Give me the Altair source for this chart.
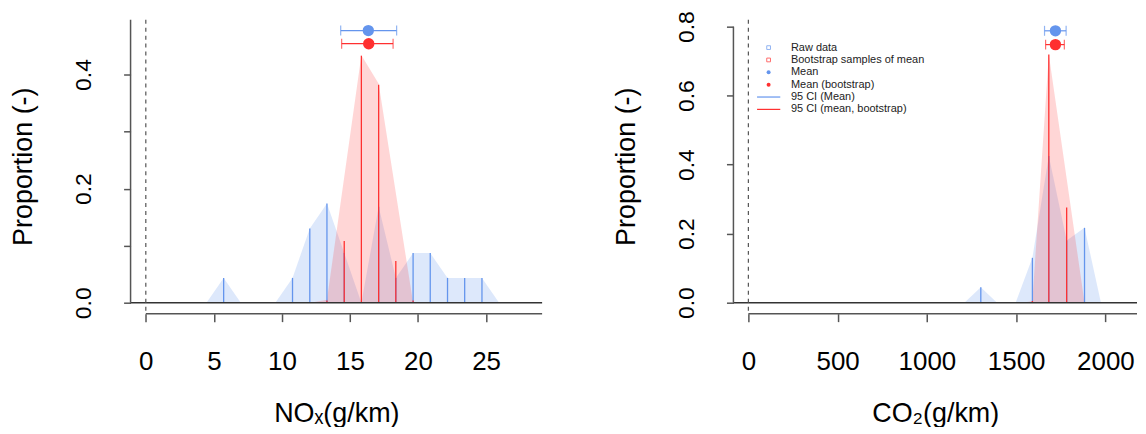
import altair as alt
import pandas as pd

FONT = "Liberation Sans"
BLUE = "#6495ED"
RED = "#FF3030"
AXC = "#555555"

# ---------------- Left panel: NOx ----------------
NOX_RAW_POLY_X = [4.46, 5.72, 6.98, 8.25, 9.52, 10.78, 12.05, 13.31, 14.58, 15.84,
                  17.11, 18.37, 19.64, 20.90, 22.17, 23.43, 24.70, 25.96]
NOX_RAW_POLY_P = [0.0, 0.0435, 0.0, 0.0, 0.0, 0.0435, 0.130, 0.174, 0.087, 0.0,
                  0.168, 0.0435, 0.087, 0.087, 0.0435, 0.0435, 0.0435, 0.0]
NOX_RAW_LINE_X = [5.72, 10.78, 12.05, 13.31, 14.58, 17.11, 18.37, 19.64, 20.90, 22.17, 23.43, 24.70]
NOX_RAW_LINE_P = [0.0435, 0.0435, 0.130, 0.174, 0.087, 0.168, 0.0435, 0.087, 0.087, 0.0435, 0.0435, 0.0435]
NOX_BS_POLY_X = [12.10, 13.31, 15.84, 17.11, 19.64]
NOX_BS_POLY_P = [0.0, 0.005, 0.434, 0.384, 0.0]
NOX_BS_LINE_X = [13.31, 14.58, 15.84, 17.11, 18.37, 19.64]
NOX_BS_LINE_P = [0.004, 0.108, 0.433, 0.382, 0.073, 0.004]
NOX_MEAN = [16.35, 16.38]
NOX_LO = [14.32, 14.39]
NOX_HI = [18.43, 18.17]
NOX_LEVEL = [0.477, 0.454]
NOX_XTICKS = [0, 5, 10, 15, 20, 25]
NOX_YTICKS = [0.0, 0.1, 0.2, 0.3, 0.4]

# ---------------- Right panel: CO2 ----------------
CO2_RAW_POLY_X = [1210, 1302, 1393, 1497, 1591, 1683, 1783, 1883, 1975]
CO2_RAW_POLY_P = [0.0, 0.045, 0.0, 0.0, 0.130, 0.425, 0.180, 0.217, 0.0]
CO2_RAW_LINE_X = [1302, 1591, 1683, 1783, 1883]
CO2_RAW_LINE_P = [0.045, 0.130, 0.425, 0.180, 0.217]
CO2_BS_POLY_X = [1540, 1591, 1683, 1883]
CO2_BS_POLY_P = [0.0, 0.005, 0.719, 0.0]
CO2_BS_LINE_X = [1591, 1683, 1783]
CO2_BS_LINE_P = [0.005, 0.719, 0.276]
CO2_MEAN = [1720, 1720]
CO2_LO = [1659, 1665]
CO2_HI = [1780, 1770]
CO2_LEVEL = [0.788, 0.748]
CO2_XTICKS = [0, 500, 1000, 1500, 2000]
CO2_YTICKS = [0.0, 0.2, 0.4, 0.6, 0.8]

LEG_LABELS = ["Raw data", "Bootstrap samples of mean", "Mean", "Mean (bootstrap)",
              "95 CI (Mean)", "95 CI (mean, bootstrap)"]
LEG_KIND = ["square", "square", "circle", "circle", "line", "line"]
LEG_COLOR = [BLUE, RED, BLUE, RED, BLUE, RED]

PH = 295  # plot height


def panel(raw_px, raw_pp, raw_lx, raw_lp, bs_px, bs_pp, bs_lx, bs_lp,
          mean, lo, hi, level, xdom, ydom, xticks, yticks, ylabexpr, xtitle,
          width, ytop_line, legend=False):
    xscale = alt.Scale(domain=xdom, nice=False, zero=False)
    yscale = alt.Scale(domain=ydom, nice=False, zero=False)
    xaxis = alt.Axis(values=xticks, domain=False, grid=False, tickSize=8, tickColor=AXC,
                     tickWidth=1.5, labelFontSize=26, labelPadding=27, labelFont=FONT,
                     labelColor="black", labelFlush=False, labelOverlap=False, format="d",
                     title=xtitle, titleFont=FONT, titleFontSize=27, titleFontWeight="normal",
                     titleColor="black", titleX=width / 2, titleY=108, titleAlign="center",
                     titleBaseline="alphabetic")
    yaxis = alt.Axis(values=yticks, domain=False, grid=False, tickSize=7, tickColor=AXC,
                     tickWidth=1.5, labelFontSize=23, labelPadding=28, labelFont=FONT,
                     labelColor="black", labelAngle=270, labelAlign="center",
                     labelBaseline="bottom", labelFlush=False, labelOverlap=False,
                     labelExpr=ylabexpr, title="Proportion (-)", titleFont=FONT,
                     titleFontSize=27, titleFontWeight="normal", titleColor="black",
                     titleAngle=270, titleX=-107, titleY=147, titleAlign="center",
                     titleBaseline="middle")

    def X(f):
        return alt.X(f, type="quantitative", scale=xscale, axis=xaxis)

    def Y(f):
        return alt.Y(f, type="quantitative", scale=yscale, axis=yaxis)

    raw_poly = pd.DataFrame({"x": raw_px, "p": raw_pp})
    raw_line = pd.DataFrame({"x": raw_lx, "p": raw_lp})
    bs_poly = pd.DataFrame({"x": bs_px, "p": bs_pp})
    bs_line = pd.DataFrame({"x": bs_lx, "p": bs_lp})
    means = pd.DataFrame({"m": mean, "lo": lo, "hi": hi, "lev": level,
                          "grp": ["Mean", "Mean (bootstrap)"]})
    one = pd.DataFrame({"a": [0]})
    cscale = alt.Scale(domain=["Mean", "Mean (bootstrap)"], range=[BLUE, RED])

    layers = [
        alt.Chart(raw_poly).mark_area(color=BLUE, opacity=0.22).encode(
            x=X("x"), y=Y("p"), y2=alt.datum(0)),
        alt.Chart(bs_poly).mark_area(color=RED, opacity=0.2).encode(
            x=X("x"), y=Y("p"), y2=alt.datum(0)),
        alt.Chart(raw_line).mark_rule(color=BLUE, strokeWidth=1.3).encode(
            x=X("x"), y=Y("p"), y2=alt.datum(0)),
        alt.Chart(bs_line).mark_rule(color=RED, strokeWidth=1.3).encode(
            x=X("x"), y=Y("p"), y2=alt.datum(0)),
        alt.Chart(one).mark_rule(color="#333333", strokeWidth=1.5).encode(
            y=alt.datum(0)),
        alt.Chart(one).mark_rule(color="#555555", strokeWidth=1.2, strokeDash=[4, 4]).encode(
            x=alt.datum(0)),
        alt.Chart(one).mark_rule(color=AXC, strokeWidth=1.5).encode(
            x=alt.datum(xdom[0]), y=alt.datum(0), y2=alt.datum(ytop_line)),
        alt.Chart(one).mark_rule(color=AXC, strokeWidth=1.5).encode(
            y=alt.datum(ydom[0]), x=alt.datum(0), x2=alt.datum(xdom[1])),
        alt.Chart(means).mark_rule(strokeWidth=1.2).encode(
            x=X("lo"), x2="hi", y=Y("lev"),
            color=alt.Color("grp:N", scale=cscale, legend=None)),
        alt.Chart(means).mark_tick(orient="vertical", size=10, thickness=1.2).encode(
            x=X("lo"), y=Y("lev"), color=alt.Color("grp:N", scale=cscale, legend=None)),
        alt.Chart(means).mark_tick(orient="vertical", size=10, thickness=1.2).encode(
            x=X("hi"), y=Y("lev"), color=alt.Color("grp:N", scale=cscale, legend=None)),
        alt.Chart(means).mark_circle(size=130, opacity=1).encode(
            x=X("m"), y=Y("lev"), color=alt.Color("grp:N", scale=cscale, legend=None)),
    ]

    if legend:
        y0, dy = 28, 12.4
        for i, (lab, kind, col) in enumerate(zip(LEG_LABELS, LEG_KIND, LEG_COLOR)):
            yy = y0 + dy * i
            d = pd.DataFrame({"label": [lab]})
            if kind == "square":
                layers.append(alt.Chart(d).mark_point(shape="square", filled=False, size=14,
                                                      strokeWidth=1, color=col).encode(
                    x=alt.value(35.3), y=alt.value(yy)))
            elif kind == "circle":
                layers.append(alt.Chart(d).mark_point(shape="circle", filled=True, size=16,
                                                      opacity=1, color=col).encode(
                    x=alt.value(35.3), y=alt.value(yy)))
            else:
                layers.append(alt.Chart(d).mark_rule(color=col, strokeWidth=1.2).encode(
                    x=alt.value(23.7), x2=alt.value(47), y=alt.value(yy)))
            layers.append(alt.Chart(d).mark_text(align="left", baseline="middle", fontSize=11,
                                                 font=FONT, color="#222222").encode(
                x=alt.value(57.7), y=alt.value(yy), text="label:N"))

    return alt.layer(*layers).properties(width=width, height=PH)


left = panel(NOX_RAW_POLY_X, NOX_RAW_POLY_P, NOX_RAW_LINE_X, NOX_RAW_LINE_P,
             NOX_BS_POLY_X, NOX_BS_POLY_P, NOX_BS_LINE_X, NOX_BS_LINE_P,
             NOX_MEAN, NOX_LO, NOX_HI, NOX_LEVEL,
             [-1.12, 29.12], [-0.0192, 0.4961], NOX_XTICKS, NOX_YTICKS,
             "round(datum.value*10) % 2 == 0 ? format(datum.value, '.1f') : ''",
             "NOₓ(g/km)", 413, 0.4961)

right = panel(CO2_RAW_POLY_X, CO2_RAW_POLY_P, CO2_RAW_LINE_X, CO2_RAW_LINE_P,
              CO2_BS_POLY_X, CO2_BS_POLY_P, CO2_BS_LINE_X, CO2_BS_LINE_P,
              CO2_MEAN, CO2_LO, CO2_HI, CO2_LEVEL,
              [-83.7, 2177.0], [-0.0318, 0.8202], CO2_XTICKS, CO2_YTICKS,
              "format(datum.value, '.1f')",
              "CO₂(g/km)", 405, 0.8, legend=True)

chart = alt.hconcat(left, right, spacing=70).properties(
    padding={"left": 2, "top": 2, "right": 0, "bottom": 0}
).configure(font=FONT).configure_view(stroke=None)

chart.save("out.html", embed_options={"renderer": "svg", "actions": False})
